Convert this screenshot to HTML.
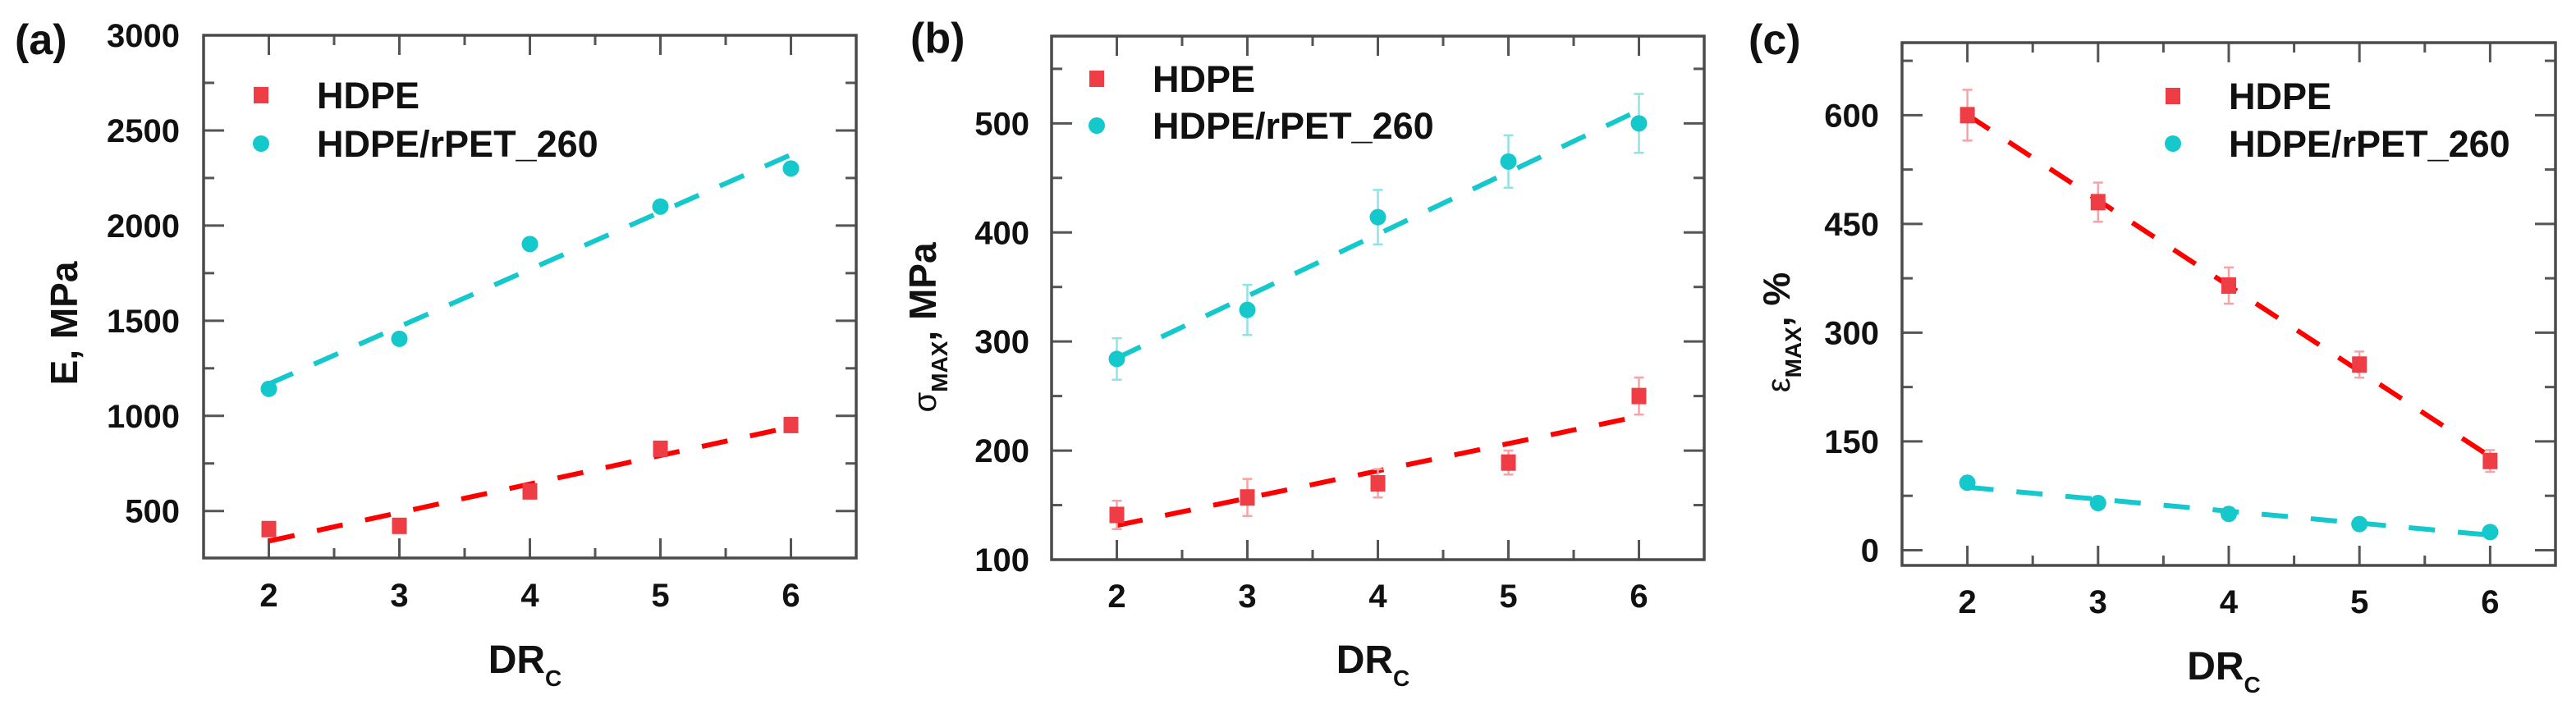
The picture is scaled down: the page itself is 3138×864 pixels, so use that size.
<!DOCTYPE html>
<html><head><meta charset="utf-8"><style>
html,body{margin:0;padding:0;background:#fff;}
svg{display:block;font-family:"Liberation Sans",Arial,sans-serif;}
</style></head><body>
<svg id="fig" width="3138" height="864" viewBox="0 0 3138 864" xmlns="http://www.w3.org/2000/svg"></svg>
<script>
// ---- data ----
const xCategories = [2, 3, 4, 5, 6];
// panel a: modulus E (MPa)
const aHdpe = [405, 422, 603, 827, 952];
const aRpet = [1142, 1405, 1903, 2100, 2300];
const aTicks = [500, 1000, 1500, 2000, 2500, 3000];
// panel b: sigma max (MPa)
const bHdpe = [141, 157, 170, 189, 250];
const bHdpeErr = [13, 17, 13, 11, 17];
const bRpet = [284, 329, 414, 465, 500];
const bRpetErr = [19, 23, 25, 24, 27];
const bTicks = [100, 200, 300, 400, 500];
// panel c: strain max (%)
const cHdpe = [600, 480, 365, 256, 123];
const cHdpeErr = [35, 27, 25, 18, 15];
const cRpet = [93, 65, 50, 36, 25];
const cRpetErr = [5, 4, 4, 3, 3];
const cTicks = [0, 150, 300, 450, 600];
const legendLabels = ["HDPE", "HDPE/rPET_260"];

const NS = "http://www.w3.org/2000/svg";
const svg = document.getElementById("fig");
function mk(tag, attrs, parent) {
  const e = document.createElementNS(NS, tag);
  for (const k in attrs) e.setAttribute(k, attrs[k]);
  (parent || svg).appendChild(e);
  return e;
}
const RED = "#ee3d44", LRED = "#ff0000", CYAN = "#14c8cc", ERR_R = "#f7a3a6", ERR_C = "#8fe3e5";

function fit(xs, ys) {
  const n = xs.length;
  const mx = xs.reduce((a, b) => a + b, 0) / n, my = ys.reduce((a, b) => a + b, 0) / n;
  let sxy = 0, sxx = 0;
  for (let i = 0; i < n; i++) { sxy += (xs[i] - mx) * (ys[i] - my); sxx += (xs[i] - mx) ** 2; }
  const m = sxy / sxx;
  return x => my + m * (x - mx);
}

function panel(cfg) {
  const g = mk("g", {});
  
  
  const L = cfg.L, R = cfg.R, T = cfg.T, B = cfg.B;
  const sx = v => L + (v - 1.5) / 5 * (R - L);
  const sy = v => B - (v - cfg.ymin) / (cfg.ymax - cfg.ymin) * (B - T);
  // ticks
  const tg = mk("g", {stroke: "#555", "stroke-width": 3}, g);
  
  
  for (let x = 2; x <= 6.01; x += 0.5) {
    const len = Number.isInteger(x) ? 24 : 12;
    mk("line", {x1: sx(x), x2: sx(x), y1: B, y2: B - len}, tg);
    mk("line", {x1: sx(x), x2: sx(x), y1: T, y2: T + len}, tg);
  }
  for (let v = cfg.minorStart; v <= cfg.ymax + 0.01; v += cfg.minorStep) {
    if (v < cfg.ymin - 0.01) continue;
    const major = cfg.ticks.some(t => Math.abs(t - v) < 0.01);
    const len = major ? 25 : 13;
    mk("line", {x1: L, x2: L + len, y1: sy(v), y2: sy(v)}, tg);
    mk("line", {x1: R, x2: R - len, y1: sy(v), y2: sy(v)}, tg);
  }
  const fr = mk("rect", {x: L, y: T, width: R - L, height: B - T, fill: "none", stroke: "#4a4a4a", "stroke-width": 3.5}, g);
  
  
  // tick labels
  cfg.ticks.forEach(t => {
    const tx = mk("text", {x: cfg.tickRight, y: sy(t) + 14, "text-anchor": "end", "font-size": 40, "font-weight": "bold", fill: "#111"}, g);
    tx.textContent = t;
    
    
  });
  xCategories.forEach(c => {
    const tx = mk("text", {x: sx(c), y: cfg.xLabY + 14, "text-anchor": "middle", "font-size": 40, "font-weight": "bold", fill: "#111"}, g);
    tx.textContent = c;
    
    
  });
  // x title
  const xt = mk("text", {x: sx(4) - 6, y: cfg.xTitleY, "text-anchor": "middle", "font-size": 48, "font-weight": "bold", fill: "#111"}, g);
  xt.innerHTML = 'DR<tspan font-size="28" dy="16">C</tspan>';
  
  
  // y title
  const yt = mk("text", {transform: `translate(${cfg.yTitleX},${cfg.yTitleY}) rotate(-90)`, "text-anchor": "middle", "font-size": 46, "font-weight": "bold", fill: "#111"}, g);
  yt.innerHTML = cfg.yTitle;
  
  
  // panel letter
  const pl = mk("text", {x: cfg.letterX, y: cfg.letterY, "font-size": 52, "font-weight": "bold", fill: "#111"}, g);
  pl.textContent = cfg.letter;
  
  
  // series
  const series = [
    {vals: cfg.hdpe, err: cfg.hdpeErr, col: RED, line: LRED, ecol: ERR_R, sq: true, name: "hdpe"},
    {vals: cfg.rpet, err: cfg.rpetErr, col: CYAN, line: CYAN, ecol: ERR_C, sq: false, name: "rpet"}
  ];
  series.forEach(s => {
    const f = fit(xCategories, s.vals);
    const ln = mk("line", {x1: sx(2), y1: sy(f(2)), x2: sx(6), y2: sy(f(6)), stroke: s.line, "stroke-width": 6, "stroke-dasharray": "32 28"}, g);
    
    
    s.vals.forEach((v, i) => {
      const x = sx(xCategories[i]), y = sy(v);
      if (s.err) {
        const e = s.err[i];
        const eg = mk("g", {stroke: s.ecol, "stroke-width": 2.5}, g);
        
        
        mk("line", {x1: x, x2: x, y1: sy(v - e), y2: sy(v + e)}, eg);
        mk("line", {x1: x - 6, x2: x + 6, y1: sy(v - e), y2: sy(v - e)}, eg);
        mk("line", {x1: x - 6, x2: x + 6, y1: sy(v + e), y2: sy(v + e)}, eg);
      }
      let m;
      if (s.sq) m = mk("rect", {x: x - 9, y: y - 10, width: 18, height: 20, fill: s.col}, g);
      else m = mk("circle", {cx: x, cy: y, r: 10, fill: s.col}, g);
      
      
    });
  });
  // legend
  const lg = mk("g", {}, g);
  
  
  const l1 = mk("rect", {x: cfg.legX - 9, y: cfg.legY1 - 10, width: 18, height: 20, fill: RED}, lg);
  
  
  const l2 = mk("circle", {cx: cfg.legX, cy: cfg.legY2, r: 10, fill: CYAN}, lg);
  
  
  [cfg.legY1, cfg.legY2].forEach((yy, i) => {
    const t = mk("text", {x: cfg.legX + 68, y: yy + 16, "font-size": 45, "font-weight": "bold", fill: "#111"}, lg);
    t.textContent = legendLabels[i];
    
    
  });
}

panel({name: "panel-a-modulus", L: 248, R: 1043, T: 43, B: 680, ymin: 253, ymax: 3000,
  ticks: aTicks, minorStart: 500, minorStep: 250, tickRight: 219, xLabY: 725, xTitleY: 820,
  yTitleX: 94, yTitleY: 394, yTitle: "E, MPa", letter: "(a)", letterX: 18, letterY: 66,
  hdpe: aHdpe, hdpeErr: null, rpet: aRpet, rpetErr: null, legX: 318, legY1: 116, legY2: 175});

panel({name: "panel-b-strength", L: 1281, R: 2076, T: 44, B: 682, ymin: 100, ymax: 580,
  ticks: bTicks, minorStart: 100, minorStep: 50, tickRight: 1254, xLabY: 726, xTitleY: 820,
  yTitleX: 1140, yTitleY: 399,
  yTitle: '<tspan font-weight="normal" font-size="40">σ</tspan><tspan font-size="28" dy="14">MAX</tspan><tspan dy="-14">, MPa</tspan>',
  letter: "(b)", letterX: 1109, letterY: 64,
  hdpe: bHdpe, hdpeErr: bHdpeErr, rpet: bRpet, rpetErr: bRpetErr, legX: 1336, legY1: 96, legY2: 153});

panel({name: "panel-c-strain", L: 2317, R: 3113, T: 52, B: 689, ymin: -21, ymax: 700,
  ticks: cTicks, minorStart: 0, minorStep: 75, tickRight: 2289, xLabY: 733, xTitleY: 828,
  yTitleX: 2180, yTitleY: 405,
  yTitle: '<tspan font-weight="normal" font-size="40">ε</tspan><tspan font-size="28" dy="14">MAX</tspan><tspan dy="-14">, %</tspan>',
  letter: "(c)", letterX: 2130, letterY: 66,
  hdpe: cHdpe, hdpeErr: cHdpeErr, rpet: cRpet, rpetErr: cRpetErr, legX: 2647, legY1: 117, legY2: 175});
</script>
</body></html>
